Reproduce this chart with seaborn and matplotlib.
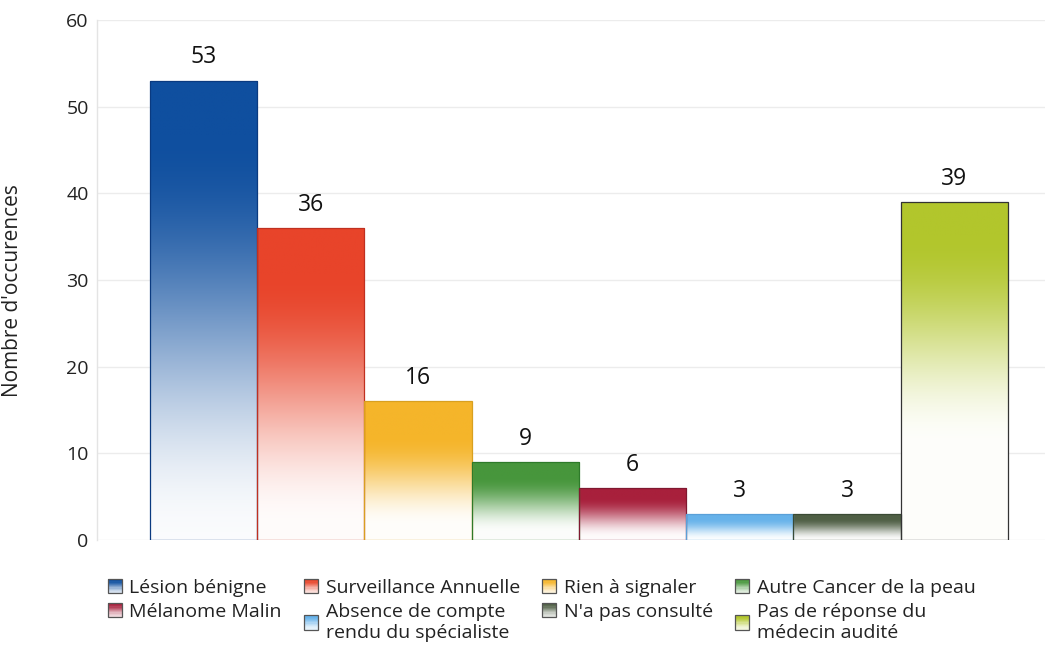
import numpy as np
import matplotlib
matplotlib.use("Agg")
import matplotlib.pyplot as plt
import matplotlib.colors as mcolors
from matplotlib.patches import Rectangle, Patch
from matplotlib.legend_handler import HandlerBase
import seaborn as sns
import pandas as pd

categories = ["Lésion bénigne", "Surveillance Annuelle", "Rien à signaler",
              "Autre Cancer de la peau", "Mélanome Malin",
              "Absence de compte\nrendu du spécialiste", "N'a pas consulté",
              "Pas de réponse du\nmédecin audité"]
values = [53, 36, 16, 9, 6, 3, 3, 39]
colors = ["#0f4f9f", "#e8442a", "#f5b52a", "#47963c", "#a8203c",
          "#66b2ea", "#4f5f45", "#b2c62c"]
edge_colors = ["#0a3a80", "#c03020", "#d8a020", "#2e7a2a", "#801830",
               "#5aa0d8", "#3a4a35", "#333333"]
fade_start = [0.12, 0.15, 0.25, 0.2, 0.2, 0.2, 0.2, 0.1]
fade_end = [1.0, 0.95, 0.9, 0.9, 0.95, 1.0, 1.0, 0.72]
yticks = [0, 10, 20, 30, 40, 50, 60]

sns.set_theme(style="white")
plt.rcParams['font.family'] = ['Open Sans', 'DejaVu Sans']

fig = plt.figure(figsize=(10.51, 6.53), dpi=100)
ax = fig.add_axes([97/1051, 1 - 540/653, 948/1051, 520/653])

df = pd.DataFrame({"cat": categories, "val": values})
sns.barplot(data=df, x="cat", y="val", hue="cat", palette=colors,
            width=1.0, legend=False, ax=ax, saturation=1)


def gradient_rgba(c, n=256, a=0.15, b=1.0):
    rgb = np.array(mcolors.to_rgb(c))
    t = np.linspace(0, 1, n)[:, None]
    f = np.clip((t - a) / (b - a), 0, 1)
    f = f * f * (3 - 2 * f) * 0.98
    arr = rgb * (1 - f) + np.ones(3) * f
    return arr[:, None, :]


for p, c, ec, fa, fb in zip(ax.patches, colors, edge_colors, fade_start, fade_end):
    x, w, h = p.get_x(), p.get_width(), p.get_height()
    p.set_facecolor("none")
    p.set_edgecolor(ec)
    p.set_linewidth(0.9)
    p.set_zorder(3)
    im = ax.imshow(gradient_rgba(c, a=fa, b=fb), extent=[x, x + w, 0, h], aspect="auto",
                   origin="upper", zorder=2, interpolation="bilinear")
    im.set_clip_path(p)
    ax.text(x + w / 2, h + 1.3, str(int(h)),
            ha="center", va="bottom", fontsize=16.5, color="#111111")

ax.set_xlim(-0.994, 7.845)
ax.set_ylim(0, 60)
ax.set_yticks(yticks)
ax.set_xticks([])
ax.set_xlabel("")
ax.set_ylabel("Nombre d'occurences", fontsize=15, color="#222222")
ax.yaxis.set_label_coords(-0.078, 0.48)
ax.tick_params(axis="y", labelsize=14, pad=6, length=0, colors="#222222")
ax.grid(axis="y", color="#ececec", linewidth=1)
ax.set_axisbelow(True)
for s in ["top", "right", "bottom"]:
    ax.spines[s].set_visible(False)
ax.spines["left"].set_color("#e4e4e4")
ax.spines["left"].set_linewidth(1)


class GradientHandler(HandlerBase):
    def __init__(self, color, edge):
        super().__init__()
        self.color = color
        self.edge = edge

    def create_artists(self, legend, orig_handle, xdescent, ydescent,
                       width, height, fontsize, trans):
        side = min(width, height)
        x0 = -xdescent
        y0 = -ydescent + (height - side) / 2
        arts = []
        n = 12
        grad = gradient_rgba(self.color, n=n, a=0.0, b=1.0)[:, 0, :]
        for i in range(n):
            r = Rectangle((x0, y0 + side - (i + 1) * side / n), side, side / n,
                          facecolor=grad[i] * 0.85 + 0.15 * np.array(mcolors.to_rgb(self.color)),
                          edgecolor="none", transform=trans)
            arts.append(r)
        arts.append(Rectangle((x0, y0), side, side, facecolor="none",
                              edgecolor="#555555", linewidth=0.9, transform=trans))
        return arts


order = [0, 4, 1, 5, 2, 6, 3, 7]
handles = [Patch(label=categories[i]) for i in order]
labels = [categories[i] for i in order]
hmap = {h: GradientHandler(colors[i], edge_colors[i]) for h, i in zip(handles, order)}
fig.legend(handles, labels, handler_map=hmap, ncol=4, loc="upper left",
           bbox_to_anchor=(108/1051, 1 - 579/653), frameon=False, fontsize=14,
           handlelength=0.75, handleheight=0.75, handletextpad=0.35,
           columnspacing=1.15, labelspacing=0.3, borderaxespad=0, borderpad=0,
           labelcolor="#222222")

fig.savefig("out.png", dpi=100, facecolor="white")
